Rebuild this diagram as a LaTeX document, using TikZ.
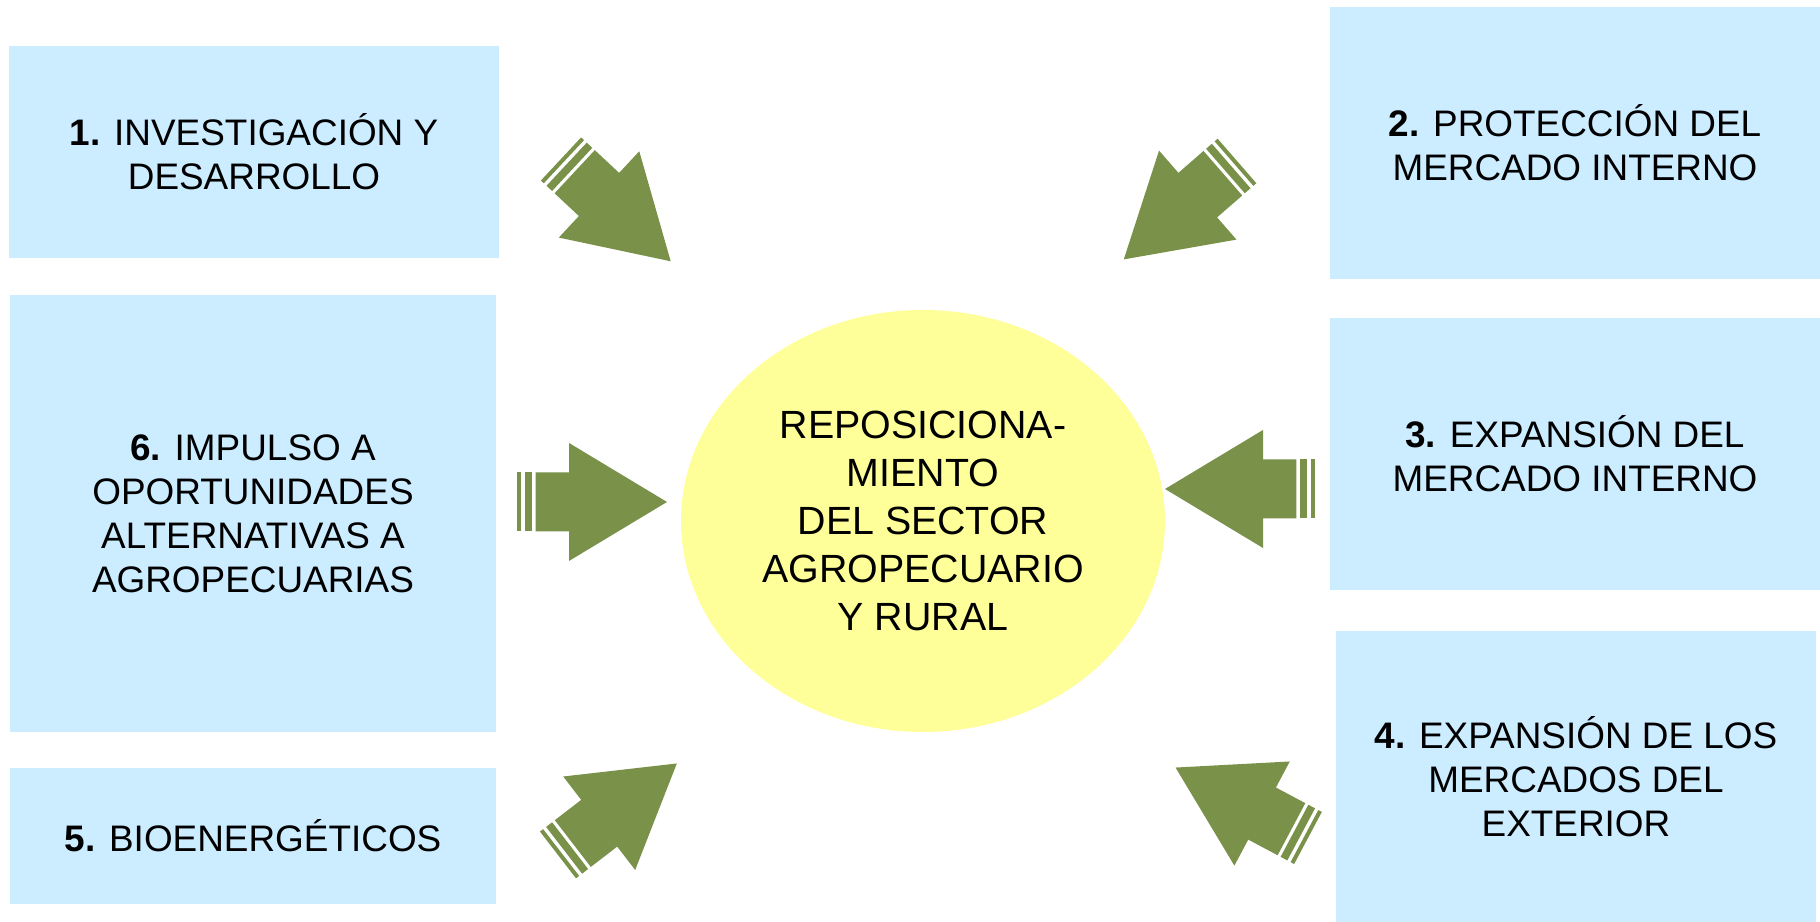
\documentclass[tikz,border=0pt]{standalone}
\usepackage{fontspec}
\setmainfont{Liberation Sans}
\usetikzlibrary{positioning,shapes.geometric}
\definecolor{paleblue}{HTML}{CCECFF}
\definecolor{paleyellow}{HTML}{FFFF99}
\definecolor{olivegreen}{HTML}{7A914A}
\tikzset{
  topicbox/.style={
    rectangle, fill=paleblue, draw=none,
    font=\fontsize{10.5}{12.5}\selectfont, align=center,
    inner sep=4pt
  },
  corebox/.style={
    ellipse, fill=paleyellow, draw=none,
    minimum width=4.84cm, minimum height=4.22cm,
    font=\fontsize{11.2}{13.6}\selectfont, align=center,
    inner sep=2pt
  },
  % striped block arrow, tail at the origin, pointing along +x
  stripearrow/.pic={
    \fill[olivegreen] (0,-0.295) rectangle (0.04,0.295);
    \fill[olivegreen] (0.077,-0.295) rectangle (0.153,0.295);
    \fill[olivegreen] (0.187,-0.295) -- (0.52,-0.295) -- (0.52,-0.59)
      -- (1.50,0) -- (0.52,0.59) -- (0.52,0.295) -- (0.187,0.295) -- cycle;
  },
}

\begin{document}
\begin{tikzpicture}
\useasboundingbox (0,0) rectangle (18.2,9.22);

\node[corebox] (core) at (9.23,4.01)
  {REPOSICIONA-\\MIENTO\\DEL SECTOR\\AGROPECUARIO\\Y RURAL};

\node[topicbox, minimum width=4.90cm, minimum height=2.12cm] (invest) at (2.54,7.70)
  {\textbf{1.} INVESTIGACIÓN Y\\DESARROLLO};
\node[topicbox, minimum width=4.90cm, minimum height=2.72cm] (protec) at (15.75,7.79)
  {\textbf{2.} PROTECCIÓN DEL\\MERCADO INTERNO};
\node[topicbox, minimum width=4.90cm, minimum height=2.72cm] (expint) at (15.75,4.68)
  {\textbf{3.} EXPANSIÓN DEL\\MERCADO INTERNO};
\node[topicbox, minimum width=4.80cm, minimum height=2.91cm] (expext) at (15.76,1.455)
  {\textbf{4.} EXPANSIÓN DE LOS\\MERCADOS DEL\\EXTERIOR};
\node[topicbox, minimum width=4.86cm, minimum height=1.36cm] (bioen) at (2.53,0.86)
  {\textbf{5.} BIOENERGÉTICOS};
\node[topicbox, minimum width=4.86cm, minimum height=4.37cm] (impulso) at (2.53,4.085)
  {\textbf{6.} IMPULSO A\\OPORTUNIDADES\\ALTERNATIVAS A\\AGROPECUARIAS};

% arrows towards the core
\pic[rotate=-43] at (5.61,7.63) {stripearrow};
\pic[rotate=221] at (12.37,7.61) {stripearrow};
\pic[rotate=180] at (13.15,4.33) {stripearrow};
\pic[rotate=152] at (13.08,0.84) {stripearrow};
\pic[rotate=37.6] at (5.58,0.67) {stripearrow};
\pic at (5.17,4.20) {stripearrow};

\end{tikzpicture}
\end{document}
